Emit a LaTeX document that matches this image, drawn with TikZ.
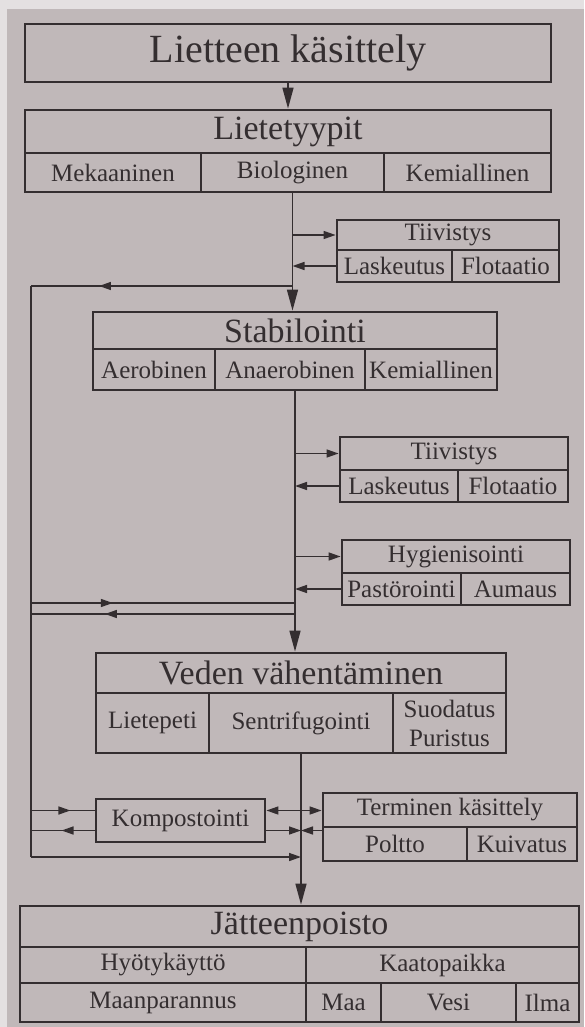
\documentclass[tikz,border=0pt]{standalone}
\usepackage{fontspec}
\setmainfont{Liberation Serif}
\usetikzlibrary{arrows.meta,decorations.markings}
\definecolor{ink}{RGB}{52,46,48}
\definecolor{paper}{RGB}{192,184,185}
\definecolor{paperedge}{RGB}{228,224,225}

\tikzset{every picture/.style={x=1pt, y=-1pt}}
\tikzset{
  cellbox/.style={draw=ink, line width=2.8pt, inner sep=0pt, text=ink,
                  align=center, font=\fontsize{25}{29}\selectfont},
  headbox/.style={cellbox, font=\fontsize{34}{38}\selectfont},
  titlebox/.style={cellbox, font=\fontsize{40}{44}\selectfont},
  conn/.style={draw=ink, line width=1.5pt},
  arr/.style={conn, -{Triangle[length=12pt,width=8pt]}},
  dblarr/.style={conn, {Triangle[length=12pt,width=8pt]}-{Triangle[length=12pt,width=8pt]}},
  bigarr/.style={conn, -{Triangle[length=21pt,width=11pt]}},
  midarr/.style={conn, postaction={decorate}, decoration={markings,
      mark=at position #1 with {\arrow{Triangle[length=12pt,width=8pt]}}}},
  midarr/.default={0.5}, % arrow head half way along the line
}
% one cell of a box: name, left, right, top, bottom, text
\newcommand\boxcell[7][cellbox]{%
  \node[#1, minimum width={(#4-#3)*1pt}, minimum height={(#6-#5)*1pt}]
    (#2) at ({(#3+#4)/2},{(#5+#6)/2}) {#7};}

\begin{document}
\begin{tikzpicture}
  % paper
  \fill[paperedge] (0,0) rectangle (584,1027);
  \fill[paper] (7,9) rectangle (584,1027);
  \useasboundingbox (0,0) rectangle (584,1027);

  % boxes
  \boxcell[titlebox]{kas}{25}{551}{24}{82}{Lietteen käsittely}
  \boxcell[headbox]{tyyp}{25}{551}{110}{153}{Lietetyypit}
  \foreach \nm/\xa/\xb/\txt in {mek/25/201/Mekaaninen, bio/201/384/Biologinen,
      kem/384/551/Kemiallinen}
    {\boxcell{\nm}{\xa}{\xb}{153}{192}{\txt}}
  \boxcell{tv1}{337}{559}{220}{250}{Tiivistys}
  \boxcell{las1}{337}{452}{250}{282}{Laskeutus}
  \boxcell{flo1}{452}{559}{250}{282}{Flotaatio}
  \boxcell[headbox]{stab}{93}{497}{312}{349}{Stabilointi}
  \foreach \nm/\xa/\xb/\txt in {aer/93/215/Aerobinen, ana/215/365/Anaerobinen,
      kemb/365/497/Kemiallinen}
    {\boxcell{\nm}{\xa}{\xb}{349}{390}{\txt}}
  \boxcell{tv2}{340}{568}{437}{470}{Tiivistys}
  \boxcell{las2}{340}{458}{470}{502}{Laskeutus}
  \boxcell{flo2}{458}{568}{470}{502}{Flotaatio}
  \boxcell{hyg}{342}{570}{540}{573}{Hygienisointi}
  \boxcell{past}{342}{461}{573}{605}{Pastörointi}
  \boxcell{aum}{461}{570}{573}{605}{Aumaus}
  \boxcell[headbox]{veden}{96}{506}{653}{693}{Veden vähentäminen}
  \boxcell{liet}{96}{209}{693}{753}{Lietepeti}
  \boxcell{sent}{209}{393}{693}{753}{Sentrifugointi}
  \boxcell{suod}{393}{506}{693}{753}{Suodatus\\Puristus}
  \boxcell{kompo}{96}{265}{799}{842}{Kompostointi}
  \boxcell{term}{323}{577}{793}{827}{Terminen käsittely}
  \boxcell{pol}{323}{467}{827}{861}{Poltto}
  \boxcell{kui}{467}{577}{827}{861}{Kuivatus}
  \boxcell[headbox]{jat}{20}{579}{906}{947}{Jätteenpoisto}
  \boxcell{hyo}{20}{306}{947}{983}{Hyötykäyttö}
  \boxcell{kaa}{306}{579}{947}{983}{Kaatopaikka}
  \foreach \nm/\xa/\xb/\txt in {maan/20/306/Maanparannus, maa/306/381/Maa,
      vesi/381/516/Vesi, ilma/516/579/Ilma}
    {\boxcell{\nm}{\xa}{\xb}{983}{1022}{\txt}}

  % rail on the left
  \coordinate (railtop) at (31,286);
  \coordinate (railbot) at (31,857);
  \coordinate (loopA) at (31,603);
  \coordinate (loopB) at (31,614);
  \coordinate (kwA) at ([yshift=10pt]kompo.west);
  \coordinate (kwB) at ([yshift=-10pt]kompo.west);
  \coordinate (keA) at ([yshift=10pt]kompo.east);
  \coordinate (keB) at ([yshift=-10pt]kompo.east);

  % main line
  \draw[bigarr] (kas) -- (tyyp);
  \draw[bigarr] (bio.south) -- (bio.south |- stab.north);
  \draw[bigarr] (stab.center |- ana.south) -- (stab.center |- veden.north);
  \draw[bigarr] (veden.center |- sent.south) -- (veden.center |- jat.north);

  % side steps
  \draw[arr] (bio.south |- tv1.west) -- (tv1.west);
  \draw[arr] (las1.west) -- (bio.south |- las1.west);
  \draw[arr] (stab.center |- tv2.west) -- (tv2.west);
  \draw[arr] (las2.west) -- (stab.center |- las2.west);
  \draw[arr] (stab.center |- hyg.west) -- (hyg.west);
  \draw[arr] (past.west) -- (stab.center |- past.west);

  % by-passes
  \draw[midarr=0.74] (bio.south |- railtop) -- (railtop);
  \draw[conn] (railtop) -- (railbot);
  \draw[midarr=0.31] (loopA) -- (stab.center |- loopA);
  \draw[midarr=0.72] (stab.center |- loopB) -- (loopB);
  \draw[midarr=0.62] (railtop |- kwA) -- (kwA);
  \draw[midarr=0.52] (kwB) -- (railtop |- kwB);
  \draw[arr] (railbot) -- (veden.center |- railbot);

  % kompostointi and terminen kasittely
  \draw[dblarr] (keA) -- (term.west |- keA);
  \draw[arr] (keB) -- (veden.center |- keB);
  \draw[arr] (term.west |- keB) -- (veden.center |- keB);
\end{tikzpicture}
\end{document}
